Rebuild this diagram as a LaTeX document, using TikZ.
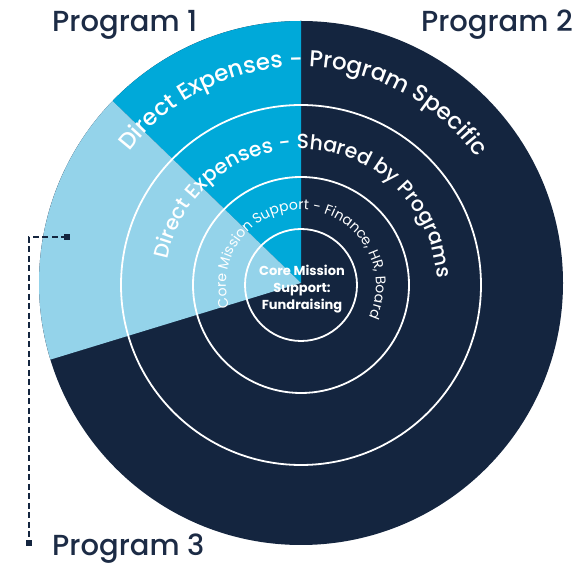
\documentclass[tikz,border=0pt]{standalone}
\usepackage{fontspec}
\setmainfont{Poppins}
\newfontfamily\popmed{Poppins Medium}
\usetikzlibrary{decorations.text}
\definecolor{navy}{HTML}{14253F}
\definecolor{midblue}{HTML}{00A9D9}
\definecolor{lightblue}{HTML}{94D3EA}
\definecolor{labelnavy}{HTML}{1C2B45}
\newcommand\curveA{\color{white}\popmed\fontsize{23}{23}\selectfont}
\newcommand\curveB{\color{white}\popmed\fontsize{20.5}{20.5}\selectfont}
\newcommand\curveC{\color{white}\fontsize{14}{14}\selectfont}
\tikzset{
  ring/.style={draw=white,line width=1.8pt},
  proglabel/.style={text=labelnavy,font=\popmed\fontsize{29}{29}\selectfont,inner sep=0pt},
  endsq/.style={fill=navy,minimum size=6pt,inner sep=0pt},
  conn/.style={draw=navy,line width=1.4pt,dash pattern=on 6pt off 3.5pt},
}
\begin{document}
\begin{tikzpicture}[x=1pt,y=1pt]
\useasboundingbox (0,0) rectangle (584,565);
\coordinate (C) at (301,282);
\coordinate (R) at (301,280);
% pie
\fill[navy] (C) circle[radius=262pt];
\fill[midblue] (C) -- ++(90:262pt) arc[start angle=90,end angle=136,radius=262pt] -- cycle;
\fill[lightblue] (C) -- ++(136:262pt) arc[start angle=136,end angle=197,radius=262pt] -- cycle;
% rings
\draw[ring] (R) circle[radius=180pt];
\draw[ring] (R) circle[radius=108pt];
\draw[ring] (R) circle[radius=56pt];
% curved texts
\path[decorate,decoration={text along path,text align=center,
  text={|\curveA|Direct Expenses - Program Specific}}]
  ([shift={(199:216pt)}]C) arc[start angle=199,end angle=-21,radius=216pt];
\path[decorate,decoration={text along path,text align=center,
  text={|\curveB|Direct Expenses - Shared by Programs}}]
  ([shift={(236:136pt)}]R) arc[start angle=236,end angle=-64,radius=136pt];
\path[decorate,decoration={text along path,text align=center,
  text={|\curveC|Core Mission Support - Finance, HR, Board}}]
  ([shift={(256:75pt)}]R) arc[start angle=256,end angle=-84,radius=75pt];
% center text
\node[text=white,font=\bfseries\fontsize{13}{17}\selectfont,align=center,inner sep=0pt] (core) at (302,276)
  {Core Mission\\Support:\\Fundraising};
% labels
\node[proglabel,anchor=base west] (p1) at (52,533) {Program 1};
\node[proglabel,anchor=base east] (p2) at (573,533) {Program 2};
\node[proglabel,anchor=base west] (p3) at (52,9) {Program 3};
% connector
\node[endsq] (sq1) at (67,328) {};
\node[endsq] (sq2) at (29,22) {};
\coordinate (bend) at (29,328);
\draw[conn] (sq1.center) -- (bend) -- (sq2.center);
\end{tikzpicture}
\end{document}
